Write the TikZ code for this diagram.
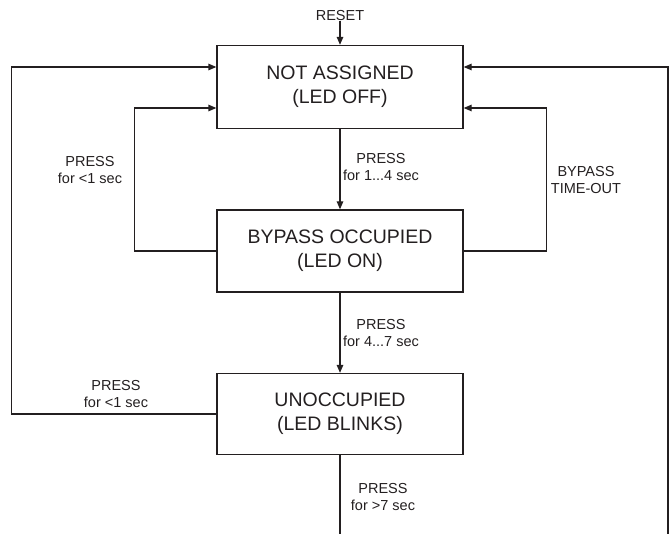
\documentclass[tikz,border=0pt]{standalone}
\usepackage{fontspec}
\setmainfont{Liberation Sans}
\usetikzlibrary{arrows.meta,positioning}
\definecolor{LDInk}{HTML}{231F20}
\tikzset{
  flow/.style={-{Triangle[length=8pt,width=6.5pt]},LDInk,line width=1.3pt},
  wire/.style={LDInk,line width=1.3pt},
  statebox/.style={draw=LDInk,line width=1.3pt,fill=white,text=LDInk,align=center,
                   minimum width=246pt,inner sep=0pt,
                   font=\fontsize{19.5}{24}\selectfont},
  label/.style={text=LDInk,align=center,inner sep=0pt,
                font=\fontsize{14.5}{17}\selectfont},
}
\begin{document}
\begin{tikzpicture}[x=1pt,y=-1pt]
    \useasboundingbox (0,0) rectangle (672,534);
    % three states stacked in the middle column
    \node[statebox,minimum height=83pt] (na) at (340,87)  {NOT ASSIGNED\\(LED OFF)};
    \node[statebox,minimum height=82pt] (bo) at (340,251) {BYPASS OCCUPIED\\(LED ON)};
    \node[statebox,minimum height=81pt] (un) at (340,414) {UNOCCUPIED\\(LED BLINKS)};

    \node[label] (reset) at (340,16) {RESET};
    \coordinate (outR) at (668,534);
    \coordinate (outC) at (340,534);

    % down the column
    \draw[flow] (reset) -- (na.north);
    \draw[flow] (na.south) -- (bo.north);
    \draw[flow] (bo.south) -- (un.north);
    \draw[wire] (un.south) -- (outC);

    % back to NOT ASSIGNED
    \draw[flow] (bo.west) -- ++(-82,0) |- ([yshift=-21pt]na.west);
    \draw[flow] (bo.east) -- ++(83,0) |- ([yshift=-21pt]na.east);
    \draw[flow] (un.west) -- ++(-205,0) |- ([yshift=20pt]na.west);
    \draw[flow] (outR) |- ([yshift=20pt]na.east);

    \node[label] (l14) at (381,167) {PRESS\\for 1...4 sec};
    \node[label] (l47) at (381,333) {PRESS\\for 4...7 sec};
    \node[label] (l7)  at (383,497) {PRESS\\for >7 sec};
    \node[label] (l1a) at (90,170)  {PRESS\\for <1 sec};
    \node[label] (l1b) at (116,394) {PRESS\\for <1 sec};
    \node[label] (to)  at (586,180) {BYPASS\\TIME-OUT};
\end{tikzpicture}
\end{document}
